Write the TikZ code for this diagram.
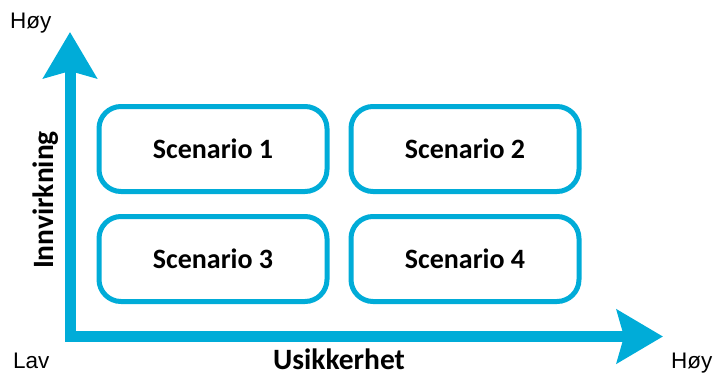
\documentclass[tikz,border=0pt]{standalone}
\usepackage{fontspec}
\setmainfont{Carlito}
\newfontfamily\arialfont{Liberation Sans}
\usetikzlibrary{arrows.meta}
\definecolor{axisblue}{RGB}{0,172,216}
\begin{document}
\begin{tikzpicture}[x=1pt,y=-1pt,
  scen/.style={draw=axisblue, line width=5pt, rounded corners=22pt, fill=white,
    minimum width=228pt, minimum height=85pt, font=\fontsize{28}{32}\selectfont\bfseries},
  axislbl/.style={font=\fontsize{29.5}{34}\selectfont\bfseries, anchor=base, inner sep=0pt},
  endlbl/.style={font=\arialfont\fontsize{22.5}{26}\selectfont, anchor=base west, inner sep=0pt}
]
\useasboundingbox (0,0) rectangle (715,376);
\coordinate (ytip) at (70,32);
\coordinate (origin) at (70,336.5);
\coordinate (xtip) at (663,336.5);
\draw[axisblue, line width=11pt, line join=miter, {Stealth[length=46pt,width=53pt,inset=7pt]}-{Stealth[length=46pt,width=53pt,inset=7pt]}]
  (ytip) -- (origin) -- (xtip);
\node[scen] (s1) at (213,149) {Scenario 1};
\node[scen] (s2) at (465,149) {Scenario 2};
\node[scen] (s3) at (213,259) {Scenario 3};
\node[scen] (s4) at (465,259) {Scenario 4};
\node[axislbl] (xl) at (339,369.5) {Usikkerhet};
\node[axislbl, rotate=90] (yl) at (53,200) {Innvirkning};
\node[endlbl] (yhi) at (10,28) {Høy};
\node[endlbl] (lav) at (13,368) {Lav};
\node[endlbl] (xhi) at (671,368) {Høy};
\end{tikzpicture}
\end{document}
